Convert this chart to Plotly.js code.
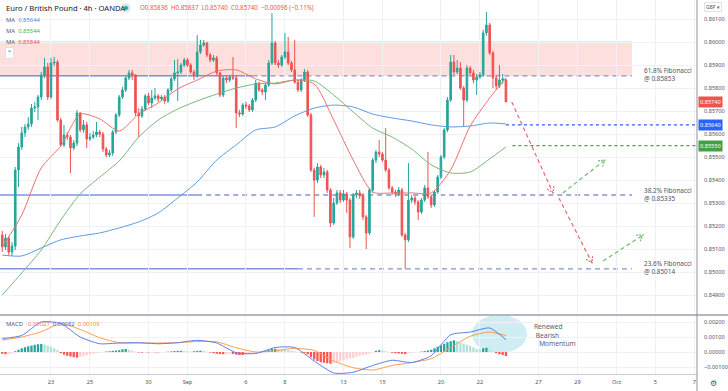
<!DOCTYPE html>
<html><head><meta charset="utf-8">
<script src="https://cdn.plot.ly/plotly-3.0.1.min.js"></script>
<style>html,body{margin:0;padding:0;background:#fff;}#chart{width:728px;height:391px;}</style>
</head><body><div id="chart"></div>
<script>
// ---------- DATA (EUR/GBP 4h, OANDA) ----------
const opens = [
.85161,.85109,.85148,.85087,.85113,.85444,.85544,.85605,.85631,.85644,
.85713,.85718,.85761,.85857,.85892,.85761,.85909,.85913,.85661,.85553,
.85596,.85587,.85540,.85561,.85692,.85618,.85640,.85579,.85587,.85596,
.85609,.85600,.85535,.85509,.85518,.85609,.85683,.85761,.85792,.85844,
.85866,.85857,.85692,.85679,.85709,.85766,.85735,.85757,.85766,.85753,
.85761,.85744,.85792,.85840,.85866,.85870,.85900,.85922,.85900,.85870,
.85853,.85957,.85987,.85996,.85944,.85922,.85931,.85866,.85770,.85844,
.85835,.85848,.85844,.85692,.85687,.85726,.85722,.85705,.85748,.85822,
.85792,.85783,.85813,.85909,.85996,.85909,.85900,.85935,.85957,.85909,
.85879,.85826,.85792,.85835,.85870,.85683,.85444,.85400,.85457,.85422,
.85435,.85357,.85213,.85300,.85344,.85313,.85340,.85313,.85153,.85335,
.85344,.85331,.85240,.85170,.85357,.85487,.85522,.85513,.85487,.85444,
.85366,.85348,.85340,.85357,.85161,.85140,.85313,.85322,.85305,.85261,
.85313,.85366,.85327,.85292,.85348,.85413,.85500,.85618,.85748,.85913,
.85870,.85887,.85800,.85748,.85887,.85866,.85835,.85848,.85857,.86040,
.86074,.85953,.85844,.85809,.85835,.85836];
const highs = [
.85179,.85166,.85157,.85131,.85457,.85561,.85631,.85644,.85674,.85731,
.85740,.85770,.85870,.85931,.85909,.85931,.85935,.85922,.85670,.85640,
.85609,.85596,.85574,.85705,.85696,.85661,.85653,.85605,.85613,.85653,
.85618,.85609,.85544,.85531,.85618,.85692,.85770,.85805,.85853,.85879,
.85879,.85861,.85713,.85722,.85774,.85779,.85792,.85800,.85774,.85770,
.85770,.85800,.85848,.85922,.85926,.85909,.85931,.85931,.85909,.85879,
.86031,.86009,.86009,.86000,.85953,.85944,.85940,.85870,.85853,.85853,
.85857,.85935,.85853,.85705,.85735,.85740,.85731,.85757,.85835,.85826,
.85800,.85822,.85922,.86126,.86005,.85922,.85944,.86040,.86022,.85918,
.86009,.85835,.85844,.85883,.85879,.85692,.85453,.85474,.85466,.85453,
.85444,.85366,.85322,.85357,.85357,.85357,.85348,.85322,.85344,.85357,
.85357,.85344,.85248,.85366,.85496,.85531,.85574,.85522,.85626,.85453,
.85374,.85357,.85370,.85366,.85170,.85474,.85335,.85331,.85313,.85322,
.85379,.85522,.85335,.85357,.85422,.85509,.85626,.85761,.85944,.85944,
.85922,.85913,.85809,.85900,.85896,.85879,.85861,.85870,.86053,.86131,
.86083,.85961,.85857,.85900,.85861,.85837];
const lows = [
.85087,.85096,.85074,.85070,.85096,.85370,.85531,.85587,.85618,.85631,
.85696,.85661,.85748,.85844,.85748,.85753,.85896,.85653,.85544,.85544,
.85574,.85431,.85531,.85548,.85609,.85605,.85540,.85570,.85579,.85587,
.85587,.85522,.85500,.85500,.85505,.85600,.85674,.85753,.85783,.85835,
.85835,.85679,.85587,.85670,.85700,.85726,.85713,.85748,.85740,.85744,
.85731,.85735,.85783,.85831,.85744,.85861,.85892,.85892,.85861,.85835,
.85844,.85948,.85979,.85935,.85913,.85913,.85857,.85761,.85761,.85822,
.85826,.85835,.85626,.85674,.85679,.85709,.85696,.85696,.85740,.85783,
.85770,.85748,.85805,.85900,.85900,.85887,.85892,.85926,.85900,.85870,
.85818,.85783,.85783,.85826,.85674,.85435,.85240,.85387,.85409,.85409,
.85344,.85196,.85205,.85292,.85300,.85305,.85257,.85105,.85144,.85322,
.85318,.85226,.85100,.85161,.85344,.85474,.85500,.85479,.85435,.85357,
.85335,.85327,.85331,.85153,.85012,.85131,.85300,.85292,.85226,.85253,
.85305,.85318,.85279,.85283,.85340,.85405,.85492,.85609,.85740,.85857,
.85861,.85792,.85631,.85740,.85857,.85822,.85770,.85840,.85848,.86027,
.85944,.85800,.85792,.85800,.85818,.85740];
const closes = [
.85109,.85148,.85087,.85113,.85444,.85544,.85605,.85631,.85644,.85713,
.85718,.85761,.85857,.85892,.85761,.85909,.85913,.85661,.85553,.85596,
.85587,.85540,.85561,.85692,.85618,.85640,.85579,.85587,.85596,.85609,
.85600,.85535,.85509,.85518,.85609,.85683,.85761,.85792,.85844,.85866,
.85857,.85692,.85679,.85709,.85766,.85735,.85757,.85766,.85753,.85761,
.85744,.85792,.85840,.85866,.85870,.85900,.85922,.85900,.85870,.85853,
.85957,.85987,.85996,.85944,.85922,.85931,.85866,.85770,.85844,.85835,
.85848,.85844,.85692,.85687,.85726,.85722,.85705,.85748,.85822,.85792,
.85783,.85813,.85909,.85996,.85909,.85900,.85935,.85957,.85909,.85879,
.85826,.85792,.85835,.85870,.85683,.85444,.85400,.85457,.85422,.85435,
.85357,.85213,.85300,.85344,.85313,.85340,.85313,.85153,.85335,.85344,
.85331,.85240,.85170,.85357,.85487,.85522,.85513,.85487,.85444,.85366,
.85348,.85340,.85357,.85161,.85140,.85313,.85322,.85305,.85261,.85313,
.85366,.85327,.85292,.85348,.85413,.85500,.85618,.85748,.85913,.85870,
.85887,.85800,.85748,.85887,.85866,.85835,.85848,.85857,.86040,.86074,
.85953,.85844,.85809,.85835,.85840,.85740];

// moving averages, read at every 6th bar (one trading day)
const maIdx  = [0,6,12,18,24,30,36,42,48,54,60,66,72,78,84,90,96,102,108,114,120,126,132,138,144,150,155];
const maFast = [.85109,.85248,.85453,.85548,.85687,.85666,.85613,.85687,.85735,.85796,.85835,.85874,.85879,.85840,.85818,.85835,.85818,.85661,.85487,.85348,.85344,.85344,.85344,.85444,.85635,.85757,.85844];
const maMid  = [.84900,.84996,.85096,.85226,.85340,.85413,.85483,.85587,.85661,.85709,.85744,.85774,.85800,.85818,.85822,.85835,.85831,.85770,.85696,.85626,.85587,.85535,.85466,.85431,.85435,.85492,.85544];
const maSlow = [.85074,.85070,.85105,.85140,.85157,.85170,.85192,.85218,.85257,.85322,.85392,.85487,.85553,.85618,.85631,.85679,.85713,.85726,.85718,.85687,.85670,.85657,.85640,.85631,.85635,.85648,.85644];

// MACD (12,26,9): lines read at the same bars, histogram read per bar (x1e-5)
const macdLine   = [90,110,200,190,100,55,60,62,55,62,78,60,-5,-10,30,30,-60,-140,-135,-90,-55,-70,-25,115,133,160,82];
const signalLine = [80,100,135,190,150,95,62,60,60,62,70,68,28,0,8,25,10,-60,-105,-120,-90,-70,-45,30,105,133,109];
const macdHist = [
-12,-15,-14,-10,
5,15,25,32,38,43,48,52,53,
50,42,35,25,12,
-8,-18,-25,-30,-35,-38,
-33,-28,-22,-16,-10,-5,
-3,0,3,5,8,10,
12,18,20,15,
8,2,-3,
-4,-3,-3,-2,-2,
-2,-1,0,2,4,
6,8,8,6,4,
3,5,8,9,6,
2,-4,-8,-12,
-14,-15,-14,-12,-13,-18,
-20,-20,-17,-14,-10,
-6,-2,4,8,
14,20,22,20,18,16,
12,8,4,0,-3,
-5,-15,-35,
-50,-60,-68,-72,-75,-78,-75,
-70,-62,-55,-48,-42,-40,-32,-25,-20,-18,
-10,0,8,12,10,5,
0,-5,-8,-10,-12,-14,
-8,-4,-2,0,3,6,
10,15,25,35,45,55,65,72,78,
72,62,55,48,40,32,
20,18,25,28,15,5,
-8,-15,-20,-27];

const tickIdx  = [15,27,45,57,75,87,105,117,135,147,165,177,189,201,213];
const tickText = ['23','25','30','Sep','6','8','13','15','20','22','27','29','Oct','5','7'];
const priceTicks = [0.849,0.850,0.851,0.852,0.853,0.854,0.855,0.856,0.857,0.858,0.859,0.860,0.861];
const macdTicks  = [-0.001,0,0.001,0.002];

const fibLevels = [0.85853, 0.85335, 0.85014];
const fibNames  = ['61.8% Fibonacci', '38.2% Fibonacci', '23.6% Fibonacci'];
const fibSolidEnd = [77, 60, 91];
const zoneLow = 0.85853, zoneHigh = 0.86005;
const lastPrice = 0.85740, lastSlowMA = 0.85640, lastMidMA = 0.85550;

// ---------- GEOMETRY ----------
const W = 728, H = 391, ML = 0, MR = 31, MT = 0, MB = 17;
const PW = W - ML - MR, PH = H - MT - MB;       // 697 x 374
const XR = [-0.69, 213.8];
const YR = [0.84822, 0.86183];
const Y2R = [-0.001467, 0.0024];
const mainDom = [1 - 313/PH, 1];
const macdDom = [0, (PH - 316)/PH];
const sx = PW / (XR[1]-XR[0]);
const sy = (mainDom[1]-mainDom[0])*PH / (YR[1]-YR[0]);
const FIB_END = 193.8;

const idx = opens.map((_, i) => i);
const S = v => v * 1e-5;

const traces = [];
traces.push({
  type: 'candlestick', x: idx, open: opens, high: highs, low: lows, close: closes,
  xaxis: 'x', yaxis: 'y', hoverinfo: 'skip',
  increasing: {line: {color: '#26a69a', width: 1}, fillcolor: '#26a69a'},
  decreasing: {line: {color: '#ef5350', width: 1}, fillcolor: '#ef5350'},
  whiskerwidth: 0
});
const maStyle = [[maSlow,'#5e9be0'],[maMid,'#77b877'],[maFast,'#ef7070']];
maStyle.forEach(([arr,c]) => traces.push({
  type:'scatter', mode:'lines', x: maIdx, y: arr, xaxis:'x', yaxis:'y',
  line:{color:c, width:1, shape:'spline', smoothing:0.7}, hoverinfo:'skip'
}));

// MACD histogram colours
const histColors = macdHist.map((h, i) => {
  const p = i ? macdHist[i-1] : h;
  if (h >= 0) return h >= p ? '#26a69a' : '#b2dfdb';
  return h <= p ? '#ff5252' : '#ffcdd2';
});
traces.push({type:'bar', x: idx, y: macdHist.map(S), xaxis:'x', yaxis:'y2',
  marker:{color: histColors, line:{width:0}}, hoverinfo:'skip'});
traces.push({type:'scatter', mode:'lines', x: maIdx, y: signalLine.map(S), xaxis:'x', yaxis:'y2',
  line:{color:'#ff9a4d', width:1, shape:'spline', smoothing:0.6}, hoverinfo:'skip'});
traces.push({type:'scatter', mode:'lines', x: maIdx, y: macdLine.map(S), xaxis:'x', yaxis:'y2',
  line:{color:'#5b7fe8', width:1, shape:'spline', smoothing:0.6}, hoverinfo:'skip'});

// ---------- SHAPES ----------
const shapes = [];
shapes.push({type:'rect', xref:'x', yref:'y', x0: XR[0], x1: FIB_END, y0: zoneLow, y1: zoneHigh,
  fillcolor:'rgba(244,67,54,0.17)', line:{width:0}, layer:'below'});
fibLevels.forEach((lv, k) => {
  shapes.push({type:'line', xref:'x', yref:'y', x0: XR[0], x1: fibSolidEnd[k], y0: lv, y1: lv,
    line:{color:'#3d5fcf', width:1}, layer:'below'});
  shapes.push({type:'line', xref:'x', yref:'y', x0: fibSolidEnd[k], x1: FIB_END, y0: lv, y1: lv,
    line:{color:'#8391d6', width:1.3, dash:'5px,4px'}, layer:'below'});
});
// MA price lines to the axis
shapes.push({type:'line', xref:'x', yref:'y', x0: 155, x1: XR[1], y0: lastSlowMA, y1: lastSlowMA,
  line:{color:'#2962ff', width:1.2, dash:'dot'}});
shapes.push({type:'line', xref:'x', yref:'y', x0: 157, x1: XR[1], y0: lastMidMA, y1: lastMidMA,
  line:{color:'#43a047', width:1.2, dash:'dot'}});

// projected path arrows
const projArrows = [
  {from:[156.8,0.85740], to:[169.5,0.85344], c:'#e46b6b'},
  {from:[171.3,0.85322], to:[181.5,0.85040], c:'#e46b6b'},
  {from:[172.5,0.85344], to:[185.5,0.85487], c:'#6cbf6b'},
  {from:[184.9,0.85048], to:[197.2,0.85161], c:'#6cbf6b'}
];
projArrows.forEach(a => {
  shapes.push({type:'line', xref:'x', yref:'y', x0:a.from[0], y0:a.from[1], x1:a.to[0], y1:a.to[1],
    line:{color:a.c, width:1.2, dash:'4px,3px'}});
  let dx = (a.to[0]-a.from[0])*sx, dy = -(a.to[1]-a.from[1])*sy;
  const L = Math.hypot(dx, dy); dx/=L; dy/=L;
  const pts = [];
  [0.55, -0.55].forEach(ang => {
    const bx = -dx, by = -dy;
    const rx = bx*Math.cos(ang) - by*Math.sin(ang), ry = bx*Math.sin(ang) + by*Math.cos(ang);
    pts.push([a.to[0] + rx*7/sx, a.to[1] - ry*7/sy]);
  });
  shapes.push({type:'path', xref:'x', yref:'y',
    path:`M${pts[0][0]},${pts[0][1]} L${a.to[0]},${a.to[1]} L${pts[1][0]},${pts[1][1]}`,
    line:{color:a.c, width:1.1, dash:'2px,1px'}});
});

// MACD highlight ellipse
shapes.push({type:'circle', xref:'x', yref:'y2', x0:144.5, x1:161.5, y0:-0.00007, y1:0.00247,
  fillcolor:'rgba(128,208,222,0.38)', line:{width:0}, layer:'below'});

// pane separator, axis lines
const py = p => 1 - p/PH;          // pixel (from top) -> paper y
const px = p => p/PW;              // pixel -> paper x
shapes.push({type:'line', xref:'paper', yref:'paper', x0:0, x1:W/PW, y0:py(315), y1:py(315),
  line:{color:'#b4b7bf', width:2}});
shapes.push({type:'line', xref:'paper', yref:'paper', x0:0, x1:1, y0:py(374.5), y1:py(374.5),
  line:{color:'#c9ccd4', width:1}});
shapes.push({type:'line', xref:'paper', yref:'paper', x0:1, x1:1, y0:py(0), y1:py(391),
  line:{color:'#8f929b', width:1}});
// header status dot
shapes.push({type:'circle', xref:'paper', yref:'paper', x0:px(121.5), x1:px(130.5), y0:py(12.5), y1:py(3.5),
  fillcolor:'rgba(38,166,154,0.22)', line:{width:0}});
shapes.push({type:'circle', xref:'paper', yref:'paper', x0:px(124), x1:px(128), y0:py(10), y1:py(6),
  fillcolor:'#26a69a', line:{width:0}});

// ---------- ANNOTATIONS ----------
const F = 'Noto Sans, Open Sans, sans-serif';
const ann = [];
function txt(x, y, text, size, color, extra) {
  ann.push(Object.assign({xref:'paper', yref:'paper', x:px(x), y:py(y), text:text, showarrow:false,
    xanchor:'left', yanchor:'middle', font:{family:F, size:size, color:color}}, extra||{}));
}
txt(4, 8, 'Euro / British Pound · 4h · OANDA', 7.6, '#131722');
txt(138, 8, 'O0.85836  H0.85837  L0.85740  C0.85740  −0.00096 (−0.11%)', 6.2, '#ef5350');
txt(4, 20, 'MA  <span style="color:#4a8fe0">0.85644</span>', 5.9, '#5d606b');
txt(4, 31, 'MA  <span style="color:#4caf50">0.85544</span>', 5.9, '#5d606b');
txt(4, 42, 'MA  <span style="color:#ef5350">0.85844</span>', 5.9, '#5d606b');
txt(5, 53, '⌃', 6, '#333', {bgcolor:'#ffffff', bordercolor:'#e0e3eb', borderwidth:1, borderpad:1});
txt(704, 7, 'GBP ▾', 4.8, '#555', {bordercolor:'#e0e3eb', borderwidth:1, borderpad:1});
txt(4, 324, 'MACD  <span style="color:#f2777b">-0.00027</span>  <span style="color:#3f6ee8">0.00082</span>  <span style="color:#ff8a3d">0.00109</span>', 5.9, '#5d606b');
txt(532, 335, 'Renewed<br>&nbsp;Bearish<br>&nbsp;&nbsp;&nbsp;Momentum', 6.6, '#5d606b', {align:'left'});
txt(708, 382, '⚙', 8, '#555');
// right-axis value tags
[[lastPrice,'#ef5350'],[lastSlowMA,'#2962ff'],[lastMidMA,'#43a047']].forEach(([v,c]) => {
  ann.push({xref:'paper', yref:'y', x:px(698), y:v, text:v.toFixed(5), showarrow:false,
    xanchor:'left', yanchor:'middle', bgcolor:c, borderpad:1,
    font:{family:F, size:5.6, color:'#ffffff'}});
});
// fibonacci labels
fibLevels.forEach((lv, k) => {
  ann.push({xref:'x', yref:'y', x:196.8, y:lv, text: fibNames[k] + '<br>@ ' + lv.toFixed(5),
    showarrow:false, xanchor:'left', yanchor:'middle', align:'left', yshift:1,
    font:{family:F, size:6.4, color:'#50535e'}});
});

const axFont = {family:F, size:5.6, color:'#50535e'};
const layout = {
  width: W, height: H, margin:{l:ML, r:MR, t:MT, b:MB, pad:0},
  paper_bgcolor:'#ffffff', plot_bgcolor:'#ffffff', showlegend:false,
  bargap: 0.3, dragmode:false,
  xaxis: {range: XR, anchor:'y2', tickvals: tickIdx, ticktext: tickText, ticks:'',
    showgrid:true, gridcolor:'#eff1f6', gridwidth:1, zeroline:false, showline:false,
    tickfont: axFont, rangeslider:{visible:false}, fixedrange:true, ticklabelstandoff:3},
  yaxis: {domain: mainDom, range: YR, side:'right', tickvals: priceTicks, tickformat:'.5f',
    ticks:'', showgrid:true, gridcolor:'#eff1f6', zeroline:false, showline:false,
    tickfont: axFont, ticklabelstandoff:6, fixedrange:true},
  yaxis2: {domain: macdDom, range: Y2R, side:'right', tickvals: macdTicks, tickformat:'.5f',
    ticks:'', showgrid:true, gridcolor:'#eff1f6', zeroline:false, showline:false,
    tickfont: axFont, ticklabelstandoff:6, fixedrange:true},
  shapes: shapes, annotations: ann
};
Plotly.newPlot('chart', traces, layout, {displayModeBar:false, staticPlot:true});
</script></body></html>
